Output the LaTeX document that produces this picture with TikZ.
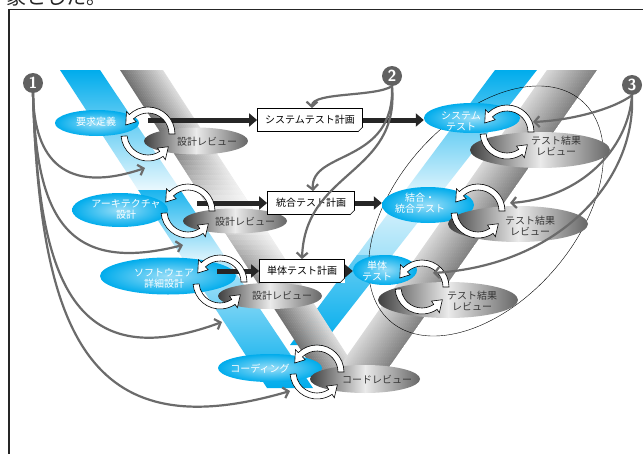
\documentclass[tikz,border=0pt]{standalone}
\usepackage{fontspec}
\newfontfamily\jpfont{Noto Sans CJK JP}
\usetikzlibrary{shapes.geometric,arrows.meta}
\definecolor{vblue}{RGB}{0,172,236}
\tikzset{
  phase/.style={ellipse, inner sep=0pt, inner color=vblue!40!white, outer color=vblue},
  review/.style={ellipse, inner sep=0pt, left color=black!75, right color=black!60, middle color=black!8},
  wtext/.style={text=white, font=\jpfont\fontsize{10}{11}\selectfont, align=center, inner sep=0pt},
  gtext/.style={text=black!78, font=\jpfont\fontsize{10}{11}\selectfont, align=center, inner sep=0pt},
  plan/.style={draw, line width=0.8pt, fill=white, font=\jpfont\fontsize{10}{11}\selectfont,
    minimum height=23pt, inner sep=0pt},
  planarrow/.style={line width=5pt, draw=black!85, -{Triangle[length=8pt,width=13pt]}},
  callout/.style={draw=black!58, line width=2.2pt, -{Straight Barb[length=5pt,width=11pt]}},
  num/.style={circle, fill=black!62, text=white, inner sep=0pt, minimum size=20pt,
    font=\sffamily\bfseries\fontsize{16}{16}\selectfont},
}
% hollow arrow on a ring: centre, start angle, end angle (tip)
\newcommand\hollowarc[3]{%
  \filldraw[fill=white, draw=black, line width=0.6pt, shift={(#1)}]
    (#2:27) arc[start angle=#2, end angle=#3-24, radius=27]
    -- (#3-24:31) -- (#3:24) -- (#3-24:17) -- (#3-24:21)
    arc[start angle=#3-24, end angle=#2, radius=21] -- cycle;
}
\newcommand\cyclearr[1]{\hollowarc{#1}{0}{158}\hollowarc{#1}{185}{328}}

\begin{document}
\begin{tikzpicture}[x=1pt,y=1pt]
  \useasboundingbox (0,0) rectangle (643,-453);
  \clip (0,0) rectangle (643,-453);
  \fill[white] (0,0) rectangle (643,-453);
  \draw[line width=1.6pt, black!85] (9,-470) -- (9,-9.5) -- (660,-9.5);
  \node[anchor=base west, inner sep=0pt, text=black!85,
    font=\jpfont\fontsize{20}{20}\selectfont] (caption) at (6,-4.5) {象とした。};

  % the V: blue left arm
  \begin{scope}
    \clip (60,-70) -- (100,-70) -- (313,-388) -- (267,-388) -- cycle;
    \shade[top color=vblue, bottom color=vblue!8] (50,-70) rectangle (330,-190.5);
    \shade[top color=vblue!90, bottom color=vblue!10] (50,-190) rectangle (330,-262.5);
    \shade[top color=vblue!30, bottom color=vblue] (50,-262) rectangle (330,-388);
  \end{scope}
  % blue right arm
  \begin{scope}
    \clip (495,-70) -- (537,-70) -- (322,-345) -- (290,-345) -- cycle;
    \shade[top color=vblue, bottom color=vblue!15] (280,-70) rectangle (540,-190.5);
    \shade[top color=vblue!12, bottom color=vblue!35] (280,-190) rectangle (540,-255.5);
    \shade[top color=vblue!60, bottom color=vblue] (280,-255) rectangle (540,-345);
  \end{scope}
  % grey left arm
  \begin{scope}
    \clip (120,-70) -- (163,-70) -- (360,-375) -- (317,-375) -- cycle;
    \foreach \i [evaluate=\i as \pc using 55-2*\i] in {0,...,21}
      \fill[black!\pc] (120+2*\i,-70) -- ++(2.4,0) -- ++(197,-305) -- ++(-2.4,0) -- cycle;
    \foreach \k [evaluate=\k as \op using 0.065*\k] in {0,...,13}
      \fill[white, opacity=\op] (100,-140-5*\k) rectangle (380,-145-5*\k);
    \foreach \k [evaluate=\k as \op using 0.8-0.047*\k] in {0,...,16}
      \fill[white, opacity=\op] (100,-210-5*\k) rectangle (380,-215-5*\k);
  \end{scope}
  % grey right arm
  \begin{scope}
    \clip (547,-70) -- (597,-70) -- (376.5,-385) -- (326.5,-385) -- cycle;
    \foreach \i [evaluate=\i as \pc using 15+1.4*\i] in {0,...,24}
      \fill[black!\pc] (547+2*\i,-70) -- ++(2.4,0) -- ++(-220.5,-315) -- ++(-2.4,0) -- cycle;
  \end{scope}

  \draw[thin, rotate around={49:(486,-211)}] (486,-211) ellipse [x radius=146, y radius=90];

  % phases
  \node[phase, minimum width=84pt, minimum height=26pt] (req) at (97,-123) {};
  \node[phase, minimum width=96pt, minimum height=34pt] (arch) at (120,-210) {};
  \node[phase, minimum width=136pt, minimum height=37pt] (swd) at (168,-276) {};
  \node[phase, minimum width=104pt, minimum height=28pt] (cod) at (270,-368) {};
  \node[phase, minimum width=96pt, minimum height=30pt] (syst) at (472,-118) {};
  \node[phase, minimum width=92pt, minimum height=36pt] (intt) at (428,-205) {};
  \node[phase, minimum width=64pt, minimum height=30pt] (unit) at (385,-270) {};

  % reviews
  \node[review, minimum width=104pt, minimum height=27pt] (rev1) at (196,-141) {};
  \node[review, minimum width=104pt, minimum height=25pt] (rev2) at (235,-221) {};
  \node[review, minimum width=104pt, minimum height=26pt] (rev3) at (270,-296) {};
  \node[review, minimum width=110pt, minimum height=28pt] (crev) at (365,-379) {};
  \node[review, minimum width=140pt, minimum height=36pt] (trev1) at (540,-150) {};
  \node[review, minimum width=140pt, minimum height=36pt] (trev2) at (518,-224) {};
  \node[review, minimum width=140pt, minimum height=36pt] (trev3) at (448,-300) {};

  % test plans
  \node[plan, minimum width=105pt] (sysplan) at (310,-120) {システムテスト計画};
  \node[plan, minimum width=87pt] (intplan) at (311,-203) {統合テスト計画};
  \node[plan, minimum width=85pt] (unitplan) at (302,-271) {単体テスト計画};
  \foreach \p in {sysplan,intplan,unitplan} {
    \fill[white] (\p.south east) -- ++(-5,0) -- ++(5,5) -- cycle;
    \draw[line width=0.6pt] ([xshift=-5pt]\p.south east) -- ([yshift=5pt]\p.south east);
  }

  \coordinate (a1) at (148,-120);
  \coordinate (a2) at (197,-203);
  \coordinate (a3) at (217,-271);
  \draw[planarrow] (a1) -- (sysplan.west);
  \draw[planarrow] (sysplan.east) -- (sysplan.east -| syst.west);
  \draw[planarrow] (a2) -- (intplan.west);
  \draw[planarrow] (intplan.east) -- (intplan.east -| intt.west);
  \draw[planarrow] (a3) -- (unitplan.west);
  \draw[planarrow] (unitplan.east) -- (unitplan.east -| unit.west);

  % review cycles
  \foreach \c in {{148,-134},{188,-211},{220,-282},{317,-372},{507,-132},{478,-211},{422,-287}}
    \cyclearr{\c};

  % labels
  \node[wtext] (req-txt) at (96,-122) {要求定義};
  \node[wtext] (arch-txt) at (126,-209) {アーキテクチャ\\設計};
  \node[wtext] (swd-txt) at (164,-278) {ソフトウェア\\詳細設計};
  \node[wtext] (cod-txt) at (260,-369) {コーディング};
  \node[wtext] (syst-txt) at (461,-121) {システム\\テスト};
  \node[wtext] (intt-txt) at (420,-203) {結合・\\統合テスト};
  \node[wtext] (unit-txt) at (377,-271) {単体\\テスト};
  \node[gtext] (rev1-txt) at (207,-142) {設計レビュー};
  \node[gtext] (rev2-txt) at (245,-222) {設計レビュー};
  \node[gtext] (rev3-txt) at (282,-296) {設計レビュー};
  \node[gtext] (crev-txt) at (377,-380) {コードレビュー};
  \node[gtext] (trev1-txt) at (556,-146) {テスト結果\\レビュー};
  \node[gtext] (trev2-txt) at (530,-226) {テスト結果\\レビュー};
  \node[gtext] (trev3-txt) at (472,-301) {テスト結果\\レビュー};

  % callouts
  \node[num] (one) at (33,-83) {1};
  \node[num] (two) at (392,-76) {2};
  \node[num] (three) at (632,-85) {3};
  \coordinate (r1) at (145,-168);
  \coordinate (r2) at (183,-245);
  \coordinate (r3) at (222,-322);
  \coordinate (r4) at (290,-391);
  \draw[callout] (one.south) .. controls (34,-160) and (65,-195) .. (r1);
  \draw[callout] (one.south) .. controls (36,-215) and (65,-275) .. (r2);
  \draw[callout] (one.south) .. controls (38,-275) and (70,-378) .. (r3);
  \draw[callout] (one.south) .. controls (40,-345) and (95,-448) .. (r4);
  \draw[callout] (two.south) .. controls (375,-97) and (312,-92) .. ([xshift=2pt]sysplan.north);
  \draw[callout] (two.south) .. controls (395,-165) and (310,-150) .. ([xshift=2pt]intplan.north);
  \draw[callout] (two.south) .. controls (400,-175) and (305,-170) .. (unitplan.north);
  \coordinate (s1) at (533,-122);
  \coordinate (s2) at (510,-203);
  \coordinate (s3) at (433,-273);
  \draw[callout] (three.south) .. controls (615,-108) and (575,-120) .. (s1);
  \draw[callout] (three.south) .. controls (628,-150) and (580,-198) .. (s2);
  \draw[callout] (three.south) .. controls (636,-180) and (560,-265) .. (s3);
\end{tikzpicture}
\end{document}
